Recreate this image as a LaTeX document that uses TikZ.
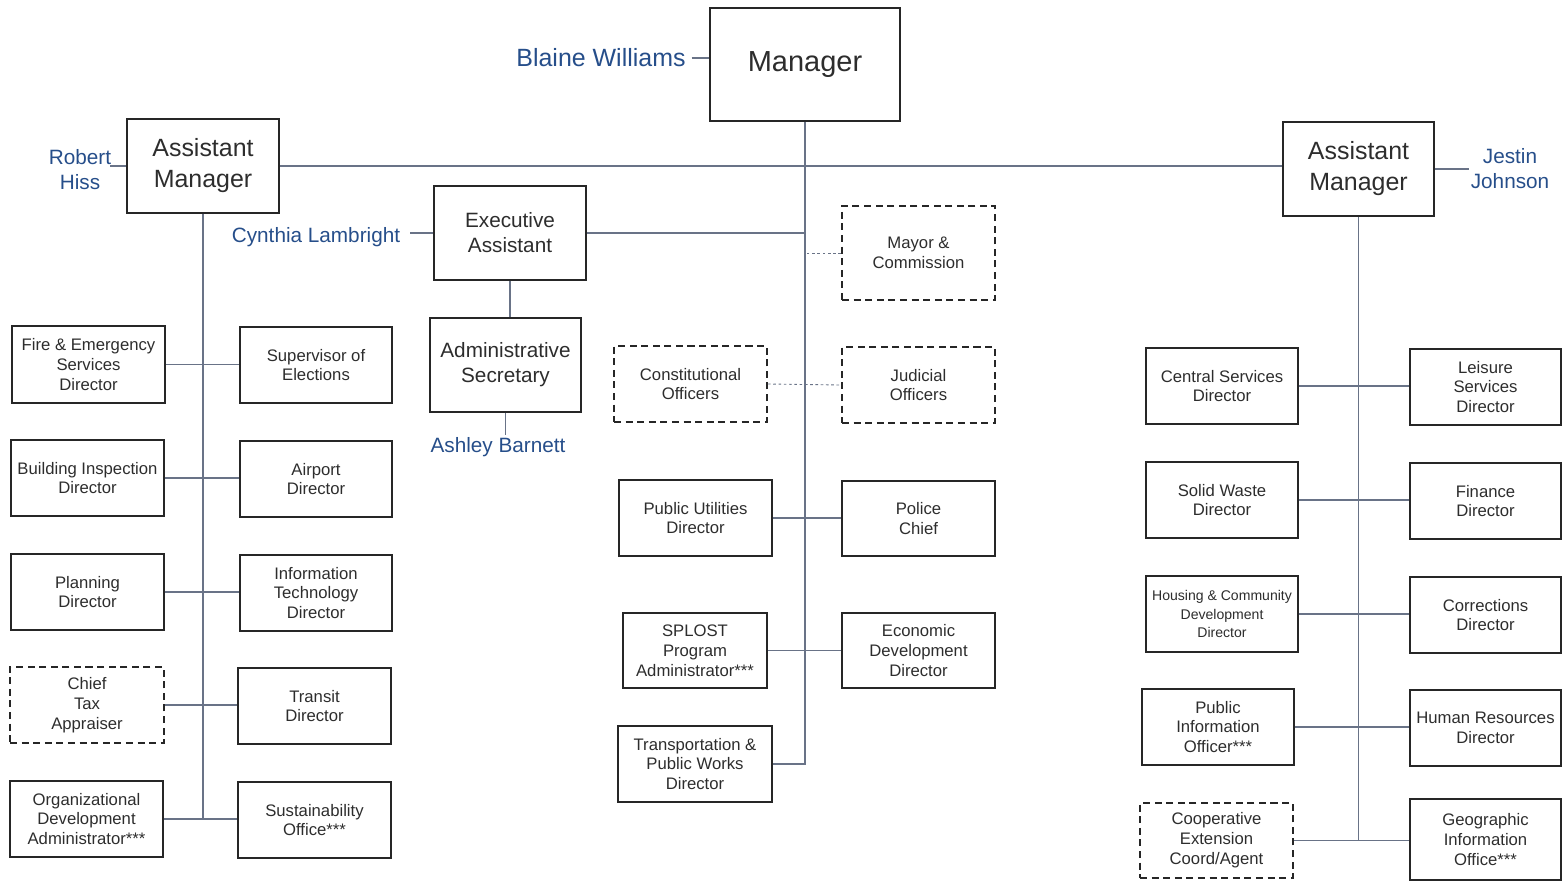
\documentclass[tikz,border=0pt]{standalone}
\usepackage{fontspec}
\setmainfont{Liberation Sans}
\definecolor{namecol}{RGB}{38,78,138}
\definecolor{conncol}{RGB}{105,115,135}
\definecolor{txtcol}{RGB}{45,45,45}
\tikzset{
  box/.style={draw=black!85,line width=1.1pt,align=center,inner sep=1pt,text=txtcol,font=\fontsize{9.5}{11.3}\selectfont},
  dbox/.style={box,dashed,dash pattern=on 4pt off 2.6pt},
  bigbox/.style={font=\fontsize{14.2}{17.6}\selectfont},
  midbox/.style={font=\fontsize{11.8}{14.2}\selectfont},
  conn/.style={draw=conncol,line width=0.6pt},
  dconn/.style={draw=conncol,line width=0.5pt,dash pattern=on 1.5pt off 1.5pt},
  namelbl/.style={text=namecol,align=center,inner sep=1pt,font=\fontsize{11.8}{14.2}\selectfont},
}
\newcommand\bx[7][]{%
  \pgfmathsetmacro\cxx{(#3+#5)/2}\pgfmathsetmacro\cyy{(#4+#6)/2}%
  \pgfmathsetmacro\ww{(#5-#3)*0.02}\pgfmathsetmacro\hh{(#6-#4)*0.02}%
  \node[box,#1,minimum width=\ww cm,minimum height=\hh cm] (#2) at (\cxx,\cyy) {#7};}
\begin{document}
\begin{tikzpicture}[x=0.02cm,y=-0.02cm]
\useasboundingbox (0,0) rectangle (1564,882);
% top level
\bx[font=\fontsize{16.5}{20}\selectfont]{mgr}{710}{8}{900}{121}{Manager}
\bx[bigbox]{amL}{127}{119}{279}{213}{Assistant\\Manager}
\bx[bigbox]{amR}{1283}{122}{1434}{216}{Assistant\\Manager}
\bx[midbox]{exec}{434}{186}{586}{280}{Executive\\Assistant}
\bx[midbox]{admin}{430}{318}{581}{412}{Administrative\\Secretary}
% centre column
\bx[dbox]{mayor}{842}{206}{995}{300}{Mayor \&\\Commission}
\bx[dbox]{const}{614}{346}{767}{422}{Constitutional\\Officers}
\bx[dbox]{jud}{842}{347}{995}{423}{Judicial\\Officers}
\bx{pubutil}{619}{480}{772}{556}{Public Utilities\\Director}
\bx{police}{842}{481}{995}{556}{Police\\Chief}
\bx{splost}{623}{613}{767}{688}{SPLOST\\Program\\Administrator***}
\bx{econ}{842}{613}{995}{688}{Economic\\Development\\Director}
\bx{trans}{618}{726}{772}{802}{Transportation \&\\Public Works\\Director}
% left column
\bx{fire}{12}{326}{165}{403}{Fire \& Emergency\\Services\\Director}
\bx{sup}{240}{327}{392}{403}{Supervisor of\\Elections}
\bx{bldg}{11}{440}{164}{516}{Building Inspection\\Director}
\bx{airport}{240}{441}{392}{517}{Airport\\Director}
\bx{plan}{11}{554}{164}{630}{Planning\\Director}
\bx{it}{240}{555}{392}{631}{Information\\Technology\\Director}
\bx[dbox]{tax}{10}{667}{164}{743}{Chief\\Tax\\Appraiser}
\bx{transit}{238}{668}{391}{744}{Transit\\Director}
\bx{orgdev}{10}{781}{163}{857}{Organizational\\Development\\Administrator***}
\bx{sust}{238}{782}{391}{858}{Sustainability\\Office***}
% right column
\bx{central}{1146}{348}{1298}{424}{Central Services\\Director}
\bx{leisure}{1410}{349}{1561}{425}{Leisure\\Services\\Director}
\bx{solid}{1146}{462}{1298}{538}{Solid Waste\\Director}
\bx{finance}{1410}{463}{1561}{539}{Finance\\Director}
\bx[font=\fontsize{8}{10.6}\selectfont]{housing}{1146}{576}{1298}{652}{Housing \& Community\\Development\\Director}
\bx{corr}{1410}{577}{1561}{653}{Corrections\\Director}
\bx{pio}{1142}{689}{1294}{765}{Public\\Information\\Officer***}
\bx{hr}{1410}{690}{1561}{766}{Human Resources\\Director}
\bx[dbox]{coop}{1140}{803}{1293}{878}{Cooperative\\Extension\\Coord/Agent}
\bx{gis}{1410}{799}{1561}{880}{Geographic\\Information\\Office***}
% names
\node[namelbl,font=\fontsize{14.2}{17}\selectfont] (blaine) at (601,58) {Blaine Williams};
\node[namelbl] (robert) at (80,170) {Robert\\Hiss};
\node[namelbl] (jestin) at (1510,169) {Jestin\\Johnson};
\node[namelbl] (cynthia) at (316,237) {Cynthia Lambright};
\node[namelbl] (ashley) at (498,447) {Ashley Barnett};
\coordinate (rh) at (110,166);
\coordinate (cl) at (410,233);
% name connectors
\draw[conn] (blaine.east) ++(4,0) -- (mgr.west |- blaine.east);
\draw[conn] (rh) -- (rh -| amL.west);
\draw[conn] (amR.east |- jestin.west) -- (jestin.west);
\draw[conn] (exec.west) -- (exec.west -| cl);
\draw[conn] (admin.south) -- (admin.south |- ashley.north);
% main structure
\draw[conn] (amL.east) -- (amL.east -| amR.west);
\draw[conn] (mgr.south) -- (mgr.south |- trans.east) -- (trans.east);
\draw[conn] (exec.east) -- (exec.east -| mgr.south);
\draw[conn] (exec.south) -- (exec.south |- admin.north);
\draw[dconn] (mayor.west) -- (mayor.west -| mgr.south);
\draw[dconn] (const.east) -- (jud.west);
\draw[conn] (pubutil.east) -- (pubutil.east -| police.west);
\draw[conn] (splost.east) -- (splost.east -| econ.west);
% left
\draw[conn] (amL.south) -- (amL.south |- orgdev.east);
\draw[conn] (fire.east) -- (fire.east -| sup.west);
\draw[conn] (bldg.east) -- (bldg.east -| airport.west);
\draw[conn] (plan.east) -- (plan.east -| it.west);
\draw[conn] (tax.east) -- (tax.east -| transit.west);
\draw[conn] (orgdev.east) -- (orgdev.east -| sust.west);
% right
\draw[conn] (amR.south) -- (amR.south |- coop.east);
\draw[conn] (central.east) -- (central.east -| leisure.west);
\draw[conn] (solid.east) -- (solid.east -| finance.west);
\draw[conn] (housing.east) -- (housing.east -| corr.west);
\draw[conn] (pio.east) -- (pio.east -| hr.west);
\draw[conn] (coop.east) -- (coop.east -| gis.west);
\end{tikzpicture}
\end{document}
